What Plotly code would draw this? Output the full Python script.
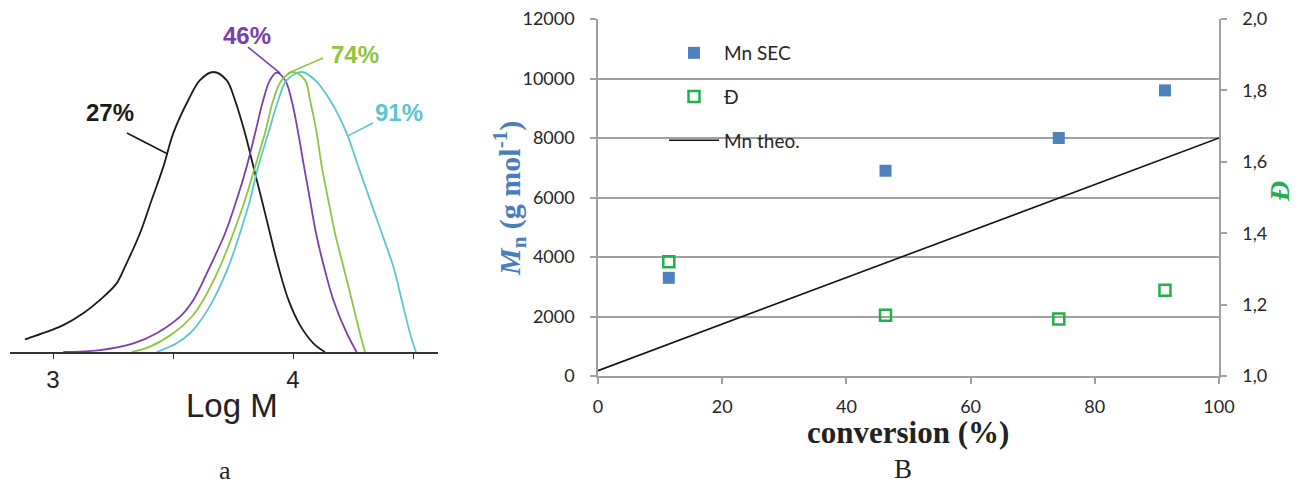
import plotly.graph_objects as go

W, H = 1299, 484
OX, OY = 8, 8  # page body margin of the html page

# ---------------- Panel a : GPC traces (log M vs normalized signal) -------------
lm_27 = [2.883, 2.897, 3.043, 3.126, 3.196, 3.265, 3.300, 3.3625, 3.411, 3.460, 3.501,
         3.564, 3.6125, 3.668, 3.723, 3.758, 3.800, 3.835, 3.870, 3.904, 3.939, 3.981,
         4.029, 4.085, 4.133]
h_27 = [0.045, 0.049, 0.096, 0.138, 0.186, 0.245, 0.305, 0.424, 0.543, 0.662, 0.781,
        0.900, 0.971, 1.0, 0.971, 0.900, 0.781, 0.662, 0.543, 0.424, 0.305, 0.186,
        0.096, 0.031, 0.0]

lm_46 = [3.043, 3.196, 3.335, 3.432, 3.529, 3.585, 3.654, 3.717, 3.765, 3.807, 3.842,
         3.876, 3.904, 3.932, 3.967, 3.994, 4.022, 4.046, 4.071, 4.096, 4.129, 4.168,
         4.224, 4.265]
h_46 = [0.0, 0.007, 0.031, 0.067, 0.126, 0.186, 0.305, 0.424, 0.543, 0.662, 0.781,
        0.900, 0.971, 0.998, 0.971, 0.900, 0.781, 0.662, 0.543, 0.424, 0.305, 0.186,
        0.067, 0.0]

lm_74 = [3.328, 3.404, 3.501, 3.578, 3.626, 3.696, 3.751, 3.800, 3.842, 3.883, 3.918,
         3.953, 4.001, 4.050, 4.071, 4.099, 4.120, 4.147, 4.175, 4.210, 4.245, 4.279,
         4.300]
h_74 = [0.0, 0.019, 0.067, 0.126, 0.186, 0.305, 0.424, 0.543, 0.662, 0.781, 0.900,
        0.971, 1.0, 0.971, 0.900, 0.781, 0.662, 0.543, 0.424, 0.305, 0.186, 0.067,
        0.0]

lm_91 = [3.432, 3.515, 3.571, 3.626, 3.668, 3.731, 3.779, 3.821, 3.855, 3.897, 3.939,
         3.974, 4.036, 4.092, 4.154, 4.224, 4.272, 4.321, 4.370, 4.418, 4.453, 4.4875,
         4.5125]
h_91 = [0.0, 0.031, 0.067, 0.126, 0.186, 0.305, 0.424, 0.543, 0.662, 0.781, 0.900,
        0.971, 1.0, 0.971, 0.900, 0.781, 0.662, 0.543, 0.424, 0.305, 0.186, 0.067,
        0.0]

gpc_labels = ["27%", "46%", "74%", "91%"]
gpc_colors = ["#1a1a1a", "#7a3faa", "#8cc63f", "#5cc6d0"]
label_pos = [(3.2375, 0.854), (3.808, 1.132), (4.258, 1.061), (4.442, 0.857)]
leaders = [((3.308, 0.782), (3.478, 0.707)),
           ((3.8125, 1.089), (3.946, 0.996)),
           ((4.125, 1.050), (3.979, 0.996)),
           ((4.333, 0.818), (4.225, 0.770))]
logm_ticks = [3, 3.5, 4, 4.5]
logm_ticktext = ["3", "", "4", ""]

# ---------------- Panel B : Mn and dispersity vs conversion --------------------
conversion = [11.4, 46.3, 74.2, 91.3]
mn_sec = [3300, 6900, 8000, 9600]
dispersity = [1.32, 1.17, 1.16, 1.24]
theo_conv = [0, 100]
mn_theo = [180, 8000]
mn_ticks = [0, 2000, 4000, 6000, 8000, 10000, 12000]
d_ticks = [1.0, 1.2, 1.4, 1.6, 1.8, 2.0]
d_ticktext = ["1,0", "1,2", "1,4", "1,6", "1,8", "2,0"]
conv_ticks = [0, 20, 40, 60, 80, 100]


def px_x(p):
    return (p - OX) / W


def px_y(p):
    return 1 - (p - OY) / H


fig = go.Figure()

# GPC curves
for lm, hh, col in [(lm_27, h_27, gpc_colors[0]), (lm_46, h_46, gpc_colors[1]),
                    (lm_74, h_74, gpc_colors[2]), (lm_91, h_91, gpc_colors[3])]:
    fig.add_trace(go.Scatter(x=lm, y=hh, mode="lines", xaxis="x", yaxis="y",
                             line=dict(color=col, width=1.8, shape="spline", smoothing=1.0),
                             showlegend=False, hoverinfo="skip"))

# Panel B traces
fig.add_trace(go.Scatter(x=conversion, y=mn_sec, mode="markers", name="Mn SEC",
                         xaxis="x2", yaxis="y2", legendgroup="a",
                         marker=dict(symbol="square", size=12, color="#4f81bd")))
fig.add_trace(go.Scatter(x=conversion, y=dispersity, mode="markers", name="Đ",
                         xaxis="x2", yaxis="y3", legendgroup="b",
                         marker=dict(symbol="square-open", size=11, color="#22b04b",
                                     line=dict(width=2.5, color="#22b04b"))))
fig.add_trace(go.Scatter(x=theo_conv, y=mn_theo, mode="lines", name="Mn theo.",
                         xaxis="x2", yaxis="y2", legendgroup="c",
                         line=dict(color="#111111", width=1.6)))

shapes = []
# white legend backdrop hiding gridlines
shapes.append(dict(type="rect", xref="paper", yref="paper", layer="between",
                   x0=px_x(607), x1=px_x(865), y0=px_y(165), y1=px_y(28),
                   fillcolor="white", line=dict(width=0)))
for (p0, p1), col in zip(leaders, gpc_colors):
    shapes.append(dict(type="line", xref="x", yref="y", x0=p0[0], y0=p0[1],
                       x1=p1[0], y1=p1[1], line=dict(color=col, width=1.6)))

annotations = []
for txt, (ax_, ay_), col in zip(gpc_labels, label_pos, gpc_colors):
    annotations.append(dict(text="<b>%s</b>" % txt, x=ax_, y=ay_, xref="x", yref="y",
                            xanchor="center", yanchor="middle",
                            showarrow=False, font=dict(family="Liberation Sans, Arial",
                                                       size=24, color=col)))


def ann(text, x, y, size, color="#222", family="Liberation Serif, Times New Roman", angle=0):
    return dict(text=text, x=px_x(x), y=px_y(y), xref="paper", yref="paper",
                xanchor="center", yanchor="middle", showarrow=False, textangle=angle,
                font=dict(family=family, size=size, color=color))


annotations += [
    ann("Log M", 232, 405, 33, family="Liberation Sans, Arial"),
    ann("a", 225, 470, 26),
    ann("B", 903, 469, 27),
    ann("<b>conversion (%)</b>", 908, 432, 31),
    ann("<b><i>M</i><sub>n</sub> (g mol<sup>-1</sup>)</b>", 509, 199, 30, color="#4a7ebb", angle=-90),
    ann("<b><i>Đ</i></b>", 1279, 192, 28, color="#22b04b", angle=-90),
]

tickfont = dict(family="Lato, Open Sans", size=18, color="#262626")
gray = "#a0a0a0"

fig.update_layout(
    width=W, height=H, margin=dict(l=0, r=0, t=0, b=0, autoexpand=False),
    paper_bgcolor="white", plot_bgcolor="rgba(0,0,0,0)",
    showlegend=True,
    legend=dict(x=px_x(664), y=px_y(34), xanchor="left", yanchor="top",
                bgcolor="rgba(0,0,0,0)", itemwidth=50, tracegroupgap=16,
                font=dict(family="Lato, Open Sans", size=19, color="#262626")),
    xaxis=dict(domain=[px_x(10), px_x(438)], range=[3 + (10 - 53) / 240, 3 + (438 - 53) / 240],
               showgrid=False, zeroline=False, showline=True, linecolor="#333", linewidth=1.6,
               ticks="outside", ticklen=5, tickcolor="#333", tickwidth=1.2,
               tickvals=logm_ticks, ticktext=logm_ticktext, automargin=False,
               ticklabeloverflow="allow",
               tickfont=dict(family="Liberation Sans, Arial", size=24, color="#222"),
               anchor="y", fixedrange=True),
    yaxis=dict(domain=[px_y(352), px_y(20)], range=[0, (352 - 20) / 280], visible=False,
               anchor="x", automargin=False),
    xaxis2=dict(domain=[px_x(598), px_x(1219)], range=[0, 100], anchor="y2",
                showgrid=False, zeroline=False, showline=True, linecolor=gray, linewidth=1.5,
                ticks="outside", ticklen=6, tickcolor=gray, tickwidth=1.5, automargin=False,
                ticklabeloverflow="allow",
                tickvals=conv_ticks, tickfont=tickfont, ticklabelstandoff=8),
    yaxis2=dict(domain=[px_y(376), px_y(19)], range=[0, 12000], anchor="x2",
                showgrid=True, gridcolor=gray, gridwidth=1.5, zeroline=False,
                showline=True, linecolor=gray, linewidth=1.5, automargin=False,
                ticks="outside", ticklen=6, tickcolor=gray, tickwidth=1.5,
                ticklabeloverflow="allow",
                tickvals=mn_ticks, tickformat="d", tickfont=tickfont, ticklabelstandoff=12),
    yaxis3=dict(domain=[px_y(376), px_y(19)], range=[1, 2], anchor="x2", overlaying="y2",
                side="right", showgrid=False, zeroline=False, automargin=False,
                showline=True, linecolor=gray, linewidth=1.5,
                ticks="outside", ticklen=6, tickcolor=gray, tickwidth=1.5,
                ticklabeloverflow="allow",
                tickvals=d_ticks, ticktext=d_ticktext, tickfont=tickfont, ticklabelstandoff=12),
    shapes=shapes, annotations=annotations,
)

fig.write_html("out.html")
